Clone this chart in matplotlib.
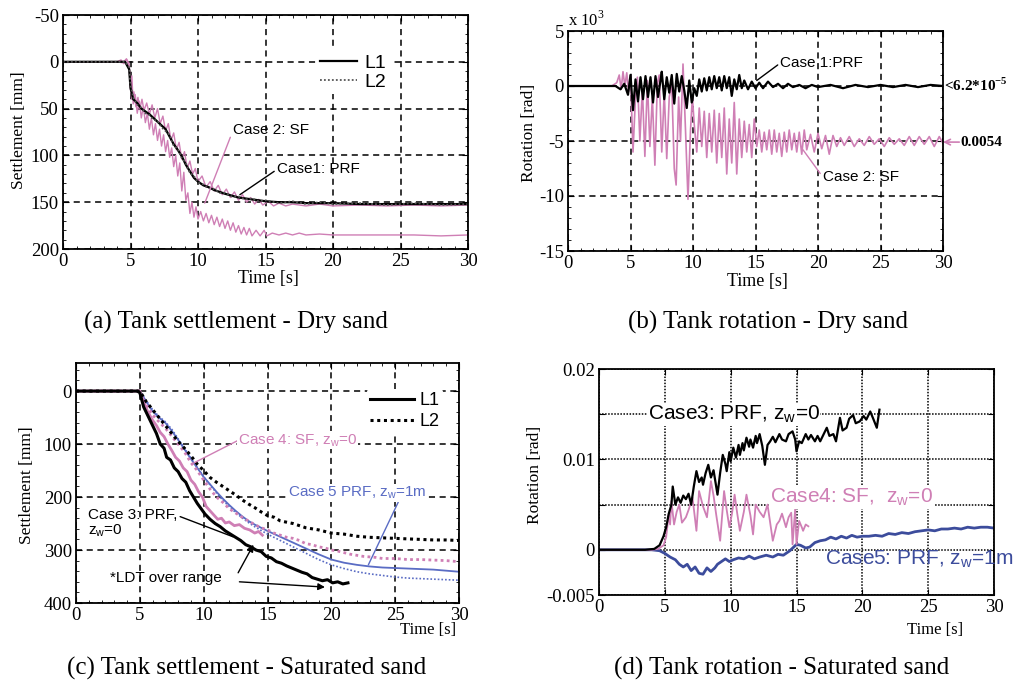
import matplotlib
matplotlib.use("Agg")
import matplotlib.pyplot as plt
from matplotlib.ticker import MultipleLocator

W, H = 1034, 689
PINK = "#cf7fb5"
BLUE_C = "#5a6cc4"
BLUE_D = "#3c4c9c"
SANS = "Liberation Sans"

# (a) settlement on dry sand [mm]
a_prf_t = [0, 4.6, 4.9, 5.0, 5.2, 5.5, 5.8, 6.1, 6.4, 6.7, 7.0, 7.3, 7.6, 7.9, 8.2, 8.5, 8.8, 9.1, 9.4, 9.7,
           10.0, 10.4, 10.8, 11.2, 11.6, 12.0, 12.5, 13.0, 13.5, 14.0, 14.5, 15.0, 16.0, 17.0, 18.0, 19.0,
           20.0, 22.0, 24.0, 26.0, 28.0, 30.0]
a_prf_l1 = [0, 0, 8, 28, 40, 44, 50, 53, 56, 60, 64, 68, 72, 80, 88, 94, 101, 110, 117, 124,
            128, 132, 134, 137, 139, 141, 143, 145, 146, 147, 148, 149, 150, 150, 151, 151,
            151, 152, 152, 152, 152, 152]
a_prf_l2 = [0, 0, 6, 25, 38, 46, 49, 55, 57, 62, 63, 70, 74, 78, 90, 93, 103, 108, 119, 122,
            129, 131, 135, 136, 140, 140, 144, 144, 147, 146, 149, 148, 151, 149, 152, 150,
            152, 151, 153, 151, 153, 152]
a_sf1_t = [0, 4.0, 4.3, 4.5, 4.7, 4.9, 5.0, 5.1, 5.2, 5.35, 5.5, 5.65, 5.8, 5.95, 6.1, 6.25, 6.4, 6.55,
           6.7, 6.85, 7.0, 7.15, 7.3, 7.45, 7.6, 7.75, 7.9, 8.05, 8.2, 8.35, 8.5, 8.65, 8.8, 8.95, 9.1,
           9.25, 9.4, 9.55, 9.7, 9.85, 10.0, 10.2, 10.4, 10.6, 10.8, 11.0, 11.2, 11.4, 11.6, 11.8, 12.0,
           12.2, 12.4, 12.6, 12.8, 13.0, 13.2, 13.4, 13.6, 13.8, 14.0, 14.3, 14.6, 14.9, 15.1, 15.5, 16.0,
           16.5, 17.0, 17.5, 18.0, 19.0, 20.0, 22.0, 24.0, 26.0, 28.0, 30.0]
a_sf1 = [0, 0, -2, 2, -3, 5, 30, 15, 45, 35, 55, 42, 60, 48, 65, 55, 72, 60,
         78, 66, 84, 72, 90, 78, 96, 84, 102, 92, 112, 100, 122, 108, 138, 118, 148,
         140, 162, 150, 166, 155, 168, 160, 170, 162, 172, 164, 174, 166, 176, 168, 178,
         170, 180, 172, 182, 175, 184, 177, 185, 178, 186, 180, 186, 180, 186, 183, 185,
         183, 185, 183, 185, 184, 185, 185, 185, 185, 186, 185]
a_sf2_t = [0, 4.0, 4.4, 4.7, 4.9, 5.0, 5.1, 5.25, 5.4, 5.55, 5.7, 5.85, 6.0, 6.2, 6.4, 6.6, 6.8, 7.0,
           7.2, 7.4, 7.6, 7.8, 8.0, 8.2, 8.4, 8.6, 8.8, 9.0, 9.2, 9.4, 9.6, 9.8, 10.0, 10.3, 10.6, 10.9,
           11.2, 11.5, 11.8, 12.1, 12.4, 12.7, 13.0, 13.3, 13.6, 13.9, 14.2, 14.5, 14.8, 15.2, 15.6,
           16.0, 16.5, 17.0, 18.0, 19.0, 20.0, 22.0, 24.0, 26.0, 28.0, 30.0]
a_sf2 = [0, 0, 1, -3, 2, 25, 40, 32, 48, 38, 50, 40, 52, 44, 56, 46, 60, 50,
         66, 58, 74, 66, 84, 76, 94, 86, 104, 96, 114, 106, 120, 114, 128, 122, 134, 128,
         138, 132, 142, 136, 145, 139, 148, 142, 150, 145, 152, 147, 153, 149, 154,
         151, 154, 152, 154, 152, 154, 153, 154, 153, 154, 153]

# (b) rotation on dry sand [x1e-3 rad]
b_prf_t = [0, 3.8, 4.2, 4.5, 4.8, 5.0, 5.2, 5.4, 5.6, 5.8, 6.0, 6.2, 6.4, 6.6, 6.8, 7.0, 7.2, 7.4, 7.5,
           7.7, 7.9, 8.1, 8.3, 8.5, 8.7, 8.9, 9.1, 9.3, 9.5, 9.7, 9.9, 10.1, 10.3, 10.5, 10.7, 10.9,
           11.1, 11.3, 11.5, 11.7, 11.9, 12.1, 12.3, 12.5, 12.7, 12.9, 13.1, 13.3, 13.5, 13.7, 13.9,
           14.1, 14.4, 14.7, 15.0, 15.3, 15.6, 16.0, 16.4, 16.8, 17.2, 17.6, 18.0, 18.5, 19.0, 19.5,
           20.0, 21.0, 22.0, 23.0, 24.0, 25.0, 26.0, 27.0, 28.0, 29.0, 30.0]
b_prf = [0, 0, -0.3, 0.2, -0.8, 1.0, -2.2, 0.6, -1.4, 0.8, -1.2, 0.9, -1.0, 0.8, -1.5, 0.9, -1.0, 0.5, 1.3,
         -1.2, 0.8, -0.6, 1.0, -1.6, 1.1, -0.5, 0.9, -0.4, -2.0, 0.5, -1.5, -0.2, -0.9, 0.6, -0.5, 0.7,
         -0.4, 0.8, -0.3, 0.9, -0.2, 0.8, -0.4, 0.9, -0.2, 0.8, -0.9, 0.6, -0.3, 1.0, -0.2,
         0.5, -0.3, 0.4, -0.2, 0.3, -0.2, 0.4, -0.1, 0.2, -0.2, 0.2, -0.1, 0.1, -0.2, 0.1,
         -0.1, 0.1, -0.2, 0.1, -0.1, 0.1, -0.1, 0.1, -0.1, 0.1, 0.0]
b_sf_t = [0, 3.5, 3.9, 4.1, 4.25, 4.4, 4.55, 4.7, 4.85, 5.0, 5.2, 5.4, 5.55, 5.75, 5.95, 6.15, 6.35,
          6.55, 6.75, 6.95, 7.15, 7.3, 7.5, 7.7, 7.9, 8.1, 8.3, 8.5, 8.65, 8.85, 9.0, 9.2, 9.4, 9.6,
          9.8, 9.95, 10.1, 10.3, 10.5, 10.7, 10.9, 11.1, 11.3, 11.5, 11.7, 11.9, 12.1, 12.3, 12.5,
          12.7, 12.9, 13.1, 13.3, 13.5, 13.7, 13.9, 14.1, 14.3, 14.5, 14.7, 14.9, 15.1, 15.3, 15.5,
          15.7, 15.9, 16.1, 16.3, 16.5, 16.7, 16.9, 17.1, 17.3, 17.5, 17.7, 17.9, 18.1, 18.3, 18.5,
          18.7, 18.9, 19.1, 19.4, 19.7, 20.0, 20.3, 20.6, 20.9, 21.2, 21.5, 21.8, 22.1, 22.5, 22.9,
          23.3, 23.7, 24.1, 24.5, 24.9, 25.3, 25.7, 26.1, 26.5, 26.9, 27.3, 27.7, 28.1, 28.5, 28.9,
          29.3, 29.7, 30.0]
b_sf = [0, 0, 0.3, 1.0, -0.3, 1.3, 0, 1.2, -0.5, 1.0, -6.0, -1.0, 0.8, -5.0, -0.2, -6.4, 0.5,
        -5.5, -1.0, -7.2, 0.3, 1.0, -6.0, -0.5, -6.6, -1.0, 0.2, -7.5, -9.0, -1.0, -5.0, 2.0, -4.0, -10.3,
        -4.0, -1.0, -3.5, -6.0, -2.0, -5.5, -2.3, -6.5, -2.5, -6.0, -2.2, -7.0, -2.5, -6.5, -2.0,
        -8.0, -3.0, -7.0, -1.5, -8.0, -3.0, -6.5, -3.2, -6.0, -3.5, -6.5, -3.0, -5.5, -4.0, -6.0,
        -4.2, -5.8, -4.0, -6.2, -4.0, -6.0, -4.3, -6.4, -4.2, -6.0, -4.0, -5.8, -4.3, -6.0, -4.2,
        -6.2, -4.0, -5.8, -4.4, -6.0, -4.3, -5.7, -4.5, -6.2, -4.5, -5.5, -4.7, -5.4, -4.6, -5.5,
        -4.8, -5.4, -4.6, -5.3, -4.8, -5.5, -4.7, -5.3, -4.8, -5.4, -4.6, -5.4, -4.6, -5.3, -4.6,
        -5.5, -4.6, -5.2]

# (c) settlement on saturated sand [mm]
c_prf_t1 = [0, 4.8, 5.0, 5.3, 5.6, 6.0, 6.3, 6.6, 6.9, 7.1, 7.4, 7.7, 8.0, 8.3, 8.6, 8.9, 9.2, 9.5, 9.8,
            10.1, 10.5, 10.9, 11.3, 11.7, 12.1, 12.5, 12.9, 13.3, 13.7, 14.1, 14.5, 14.9, 15.3, 15.7,
            16.1, 16.5, 16.9, 17.3, 17.7, 18.1, 18.5, 18.9, 19.3, 19.7, 20.1, 20.5, 20.9, 21.3]
c_prf_l1 = [0, 0, 3, 30, 45, 65, 80, 100, 108, 125, 130, 145, 152, 165, 172, 188, 200, 212, 222,
            232, 242, 250, 256, 264, 270, 276, 282, 290, 294, 300, 303, 312, 315, 322,
            325, 330, 334, 338, 342, 345, 352, 355, 358, 356, 362, 360, 364, 362]
c_prf_t2 = [0, 5.0, 5.5, 6.0, 6.5, 7.0, 7.5, 8.0, 8.5, 9.0, 9.5, 10.0, 10.5, 11.0, 11.5, 12.0, 12.5,
            13.0, 13.5, 14.0, 14.5, 15.0, 15.5, 16.0, 17.0, 18.0, 19.0, 20.0, 21.0, 22.0, 23.0, 24.0,
            25.0, 26.0, 27.0, 28.0, 29.0, 30.0]
c_prf_l2 = [0, 0, 20, 35, 50, 65, 80, 95, 108, 122, 138, 150, 163, 172, 180, 188, 196,
            205, 213, 220, 228, 235, 238, 245, 250, 258, 262, 268, 270, 274, 276, 277,
            278, 279, 280, 281, 281, 282]
c_sf_t1 = [0, 5.0, 5.3, 5.6, 6.0, 6.3, 6.6, 6.9, 7.2, 7.5, 7.8, 8.1, 8.4, 8.7, 9.0, 9.3, 9.6, 9.9,
           10.2, 10.5, 10.8, 11.1, 11.4, 11.7, 12.0, 12.4, 12.8, 13.2, 13.6, 14.0, 14.3, 14.6]
c_sf_l1 = [0, 0, 20, 38, 55, 65, 78, 86, 100, 112, 125, 132, 145, 152, 168, 176, 190, 200,
           218, 226, 234, 242, 240, 249, 247, 254, 252, 259, 262, 268, 265, 272]
c_sf_t2 = [0, 5.0, 5.5, 6.0, 6.5, 7.0, 7.5, 8.0, 8.5, 9.0, 9.5, 10.0, 10.5, 11.0, 11.5, 12.0, 12.5,
           13.0, 13.5, 14.0, 14.5, 15.0, 15.5, 16.0, 16.5, 17.0, 17.5, 18.0, 18.5, 19.0, 19.5, 20.0,
           20.5, 21.0, 21.5, 22.0, 22.5, 23.0, 23.5, 24.0, 25.0, 26.0, 27.0, 28.0, 29.0, 30.0]
c_sf_l2 = [0, 0, 25, 45, 58, 70, 85, 100, 115, 135, 150, 168, 185, 200, 210, 222, 230,
           238, 245, 252, 258, 262, 268, 272, 276, 278, 282, 288, 290, 294, 296, 300,
           302, 305, 308, 310, 312, 313, 314, 316, 316, 318, 318, 319, 320, 322]
c_rf1m_t = [0, 5.0, 5.5, 6.0, 6.5, 7.0, 7.5, 8.0, 8.5, 9.0, 9.5, 10.0, 10.5, 11.0, 11.5, 12.0, 12.5,
            13.0, 13.5, 14.0, 14.5, 15.0, 16.0, 17.0, 18.0, 19.0, 20.0, 21.0, 22.0, 23.0, 24.0, 25.0,
            26.0, 27.0, 28.0, 29.0, 30.0]
c_rf1m_l1 = [0, 0, 20, 38, 50, 60, 75, 92, 110, 128, 145, 162, 176, 190, 203, 215, 226,
             236, 245, 252, 258, 264, 275, 286, 297, 308, 318, 324, 328, 331, 333, 334,
             335, 336, 337, 339, 341]
c_rf1m_l2 = [0, 0, 18, 35, 48, 58, 72, 90, 108, 126, 144, 162, 177, 192, 206, 218, 229,
             239, 248, 256, 263, 270, 282, 294, 306, 318, 328, 335, 341, 345, 348, 351,
             353, 354, 355, 356, 357]

# (d) rotation on saturated sand [x1e-3 rad]
d_prf_t = [0, 3.5, 4.2, 4.6, 4.9, 5.1, 5.3, 5.5, 5.6, 5.8, 6.0, 6.2, 6.4, 6.6, 6.8, 7.0, 7.2, 7.4, 7.6,
           7.8, 7.9, 8.1, 8.3, 8.5, 8.7, 9.0, 9.2, 9.4, 9.6, 9.7, 9.9, 10.0, 10.2, 10.4, 10.6, 10.7,
           10.9, 11.0, 11.2, 11.4, 11.5, 11.7, 11.9, 12.0, 12.2, 12.4, 12.6, 12.8, 13.0, 13.2, 13.4,
           13.7, 13.9, 14.2, 14.4, 14.7, 14.9, 15.0, 15.2, 15.4, 15.7, 15.9, 16.1, 16.4, 16.6, 16.8,
           17.1, 17.3, 17.5, 17.8, 18.0, 18.3, 18.5, 18.8, 19.0, 19.3, 19.5, 19.8, 20.1, 20.3, 20.6,
           20.8, 21.1, 21.3]
d_prf = [0, 0, 0.1, 0.5, 1.5, 2.5, 4.0, 5.0, 7.0, 5.0, 5.8, 5.2, 6.0, 5.6, 6.2, 5.0, 7.0, 8.7, 7.5,
         8.0, 7.2, 8.5, 9.4, 8.0, 8.8, 6.1, 8.5, 10.5, 9.5, 8.7, 10.8, 9.8, 11.3, 10.2, 11.6, 10.5,
         11.8, 11.0, 12.4, 11.4, 12.2, 11.3, 12.6, 11.8, 12.8, 11.5, 9.4, 11.6, 12.0, 12.5, 11.9,
         12.8, 12.2, 12.0, 12.8, 13.1, 12.2, 10.9, 12.0, 11.8, 12.8, 12.2, 12.7, 12.0, 12.6, 12.0,
         12.9, 13.5, 12.6, 12.8, 12.0, 14.6, 13.2, 13.5, 14.5, 14.9, 14.0, 14.2, 14.8, 14.4, 15.3,
         14.6, 13.5, 15.5]
d_sf_t = [0, 4.0, 4.5, 4.9, 5.1, 5.3, 5.4, 5.5, 5.7, 5.9, 6.1, 6.3, 6.6, 6.8, 7.1, 7.4, 7.6, 7.9, 8.2,
          8.5, 8.7, 8.9, 9.2, 9.5, 9.7, 9.9, 10.1, 10.3, 10.5, 10.7, 11.0, 11.2, 11.5, 11.7, 11.9,
          12.2, 12.5, 12.8, 13.0, 13.2, 13.5, 13.7, 13.9, 14.2, 14.4, 14.6, 14.7, 14.9, 15.0, 15.2,
          15.4, 15.5, 15.7, 15.9]
d_sf = [0, 0, 0.1, 0.5, 1.4, 4.0, 2.8, 5.4, 2.8, 4.2, 5.0, 3.0, 3.6, 4.4, 5.8, 2.1, 6.5, 4.8, 3.6,
        7.6, 6.0, 3.9, 1.0, 6.5, 4.4, 2.5, 4.0, 6.1, 4.0, 2.1, 4.2, 6.1, 3.8, 1.7, 5.0,
        4.2, 3.6, 5.0, 3.0, 1.0, 2.8, 3.2, 4.0, 2.5, 3.6, 4.1, 0.6, 4.5, 0.6, 3.2,
        2.5, 2.1, 2.8, 2.6]
d_rf1m_t = [0, 4.0, 4.6, 5.0, 5.4, 5.8, 6.1, 6.4, 6.7, 7.0, 7.3, 7.6, 7.9, 8.2, 8.5, 8.8, 9.0, 9.3,
            9.6, 9.9, 10.2, 10.6, 11.0, 11.4, 11.8, 12.2, 12.7, 13.2, 13.6, 14.0, 14.5, 15.0, 15.3,
            15.7, 16.0, 16.4, 16.8, 17.2, 17.6, 18.0, 18.4, 18.8, 19.2, 19.6, 20.0, 20.5, 21.0, 21.5,
            22.0, 22.5, 23.0, 23.5, 24.0, 24.5, 25.0, 25.5, 26.0, 26.5, 27.0, 27.5, 28.0, 28.5, 29.0,
            29.5, 30.0]
d_rf1m = [0, 0, -0.1, -0.4, -0.8, -1.1, -1.6, -1.9, -1.6, -2.3, -1.9, -2.6, -2.7, -2.0, -2.4, -2.0,
          -1.6, -1.3, -1.0, -1.3, -1.1, -0.9, -1.0, -0.7, -1.0, -0.8, -0.6, -0.8, -0.5, -0.6, -0.1,
          0.6, 0.5, 0.2, 0.3, 0.8, 1.0, 1.1, 1.4, 1.2, 1.5, 1.3, 1.6, 1.4, 1.5, 1.5, 1.6, 1.5,
          1.8, 1.7, 1.9, 1.8, 2.0, 2.1, 2.2, 2.1, 2.3, 2.3, 2.4, 2.3, 2.5, 2.4, 2.5, 2.5, 2.4]

captions = ["(a) Tank settlement - Dry sand", "(b) Tank rotation - Dry sand",
            "(c) Tank settlement - Saturated sand", "(d) Tank rotation - Saturated sand"]

plt.rcParams["font.family"] = "Liberation Serif"
plt.rcParams["axes.unicode_minus"] = False
plt.rcParams["mathtext.fontset"] = "custom"
plt.rcParams["mathtext.rm"] = "Liberation Serif"
plt.rcParams["mathtext.bf"] = "Liberation Serif:bold"
plt.rcParams["mathtext.sf"] = "Liberation Sans"

DASHED = (0, (4, 3))
DOTTED = (0, (1, 1.2))

fig = plt.figure(figsize=(W / 100, H / 100), dpi=100)


def axes_at(left, top, right, bottom):
    # pixel edges -> figure fractions
    return fig.add_axes([left / W, 1 - bottom / H, (right - left) / W, (bottom - top) / H])


def ptext(x, y, s, **kw):
    kw.setdefault("ha", "center")
    kw.setdefault("va", "center")
    return fig.text(x / W, 1 - y / H, s, **kw)


def style(ax, grid_ls, xminor=None, yminor=None):
    ax.set_xlim(0, 30)
    ax.xaxis.set_major_locator(MultipleLocator(5))
    if xminor:
        ax.xaxis.set_minor_locator(MultipleLocator(xminor))
    if yminor:
        ax.yaxis.set_minor_locator(MultipleLocator(yminor))
    ax.tick_params(which="both", direction="in", top=True, right=True)
    ax.tick_params(which="major", length=4, labelsize=13.5, pad=3)
    ax.tick_params(which="minor", length=2)
    ax.grid(True, which="major", color="black", ls=grid_ls, lw=1.1)
    for sp in ax.spines.values():
        sp.set_linewidth(1.3)


def note(ax, text, xy, xytext, color="black", line=None, relpos=(0.5, 0.5), size=11, **kw):
    ax.annotate(text, xy=xy, xytext=xytext, color=color, family=SANS, fontsize=size,
                ha="left", va="center",
                arrowprops=dict(arrowstyle="-", color=line or color, lw=1.0,
                                shrinkA=0, shrinkB=0, relpos=relpos), **kw)


# ---- (a) ----
ax = axes_at(63, 15, 468, 249)
style(ax, DASHED, xminor=1, yminor=10)
ax.plot(a_sf1_t, a_sf1, color=PINK, lw=1.0)
ax.plot(a_sf2_t, a_sf2, color=PINK, lw=1.0)
h1, = ax.plot(a_prf_t, a_prf_l1, color="black", lw=1.6)
h2, = ax.plot(a_prf_t, a_prf_l2, color="#555555", lw=1.3, ls=DOTTED)
ax.set_ylim(200, -50)
ax.set_yticks([-50, 0, 50, 100, 150, 200])
ax.legend([h1, h2], ["L1", "L2"], loc="upper left", bbox_to_anchor=(0.60, 0.89),
          prop={"family": SANS, "size": 14}, handlelength=1.9, handletextpad=0.4,
          labelspacing=0.05, borderpad=0.2, facecolor="white", edgecolor="none", framealpha=1)
note(ax, "Case 2: SF", (10.5, 151), (12.6, 73), line=PINK, relpos=(0, 0.5))
note(ax, "Case1: PRF", (13.1, 142), (15.85, 115), relpos=(0, 0.5))
ptext(19, 130, "Settlement [mm]", rotation=90, fontsize=12.5)
ptext(268, 279, "Time [s]", fontsize=13)

# ---- (b) ----
ax = axes_at(568, 31, 943, 251)
style(ax, DASHED, xminor=1, yminor=1)
ax.plot(b_sf_t, b_sf, color=PINK, lw=1.2)
ax.plot(b_prf_t, b_prf, color="black", lw=1.6)
ax.set_ylim(-15, 5)
ax.set_yticks([-15, -10, -5, 0, 5])
note(ax, "Case 1:PRF", (15.1, 0.5), (17.0, 2.1), relpos=(0, 0.5))
note(ax, "Case 2: SF", (18.8, -5.8), (20.4, -8.3), line=PINK, relpos=(0, 0.5))
ax.annotate("", xy=(30, -5.1), xytext=(31.3, -5.1), annotation_clip=False,
            arrowprops=dict(arrowstyle="->", color=PINK, lw=1.2, shrinkA=0, shrinkB=0))
ptext(944, 85, r"<6.2*10$^{\mathbf{-5}}$", ha="left", fontsize=11, fontweight="bold")
ptext(960, 142, "0.0054", ha="left", fontsize=11, fontweight="bold")
ptext(568, 20, r"x 10$^{3}$", ha="left", fontsize=12)
ptext(529, 133, "Rotation [rad]", rotation=90, fontsize=12.5)
ptext(757, 281, "Time [s]", fontsize=13)

# ---- (c) ----
ax = axes_at(76, 363, 459, 603)
style(ax, DASHED, xminor=1, yminor=20)
ax.plot(c_rf1m_t, c_rf1m_l2, color=BLUE_C, lw=1.2, ls=DOTTED)
ax.plot(c_rf1m_t, c_rf1m_l1, color=BLUE_C, lw=1.3)
ax.plot(c_sf_t2, c_sf_l2, color=PINK, lw=2.0, ls=DOTTED)
ax.plot(c_sf_t1, c_sf_l1, color=PINK, lw=2.0)
g1, = ax.plot(c_prf_t1, c_prf_l1, color="black", lw=2.2)
g2, = ax.plot(c_prf_t2, c_prf_l2, color="black", lw=2.2, ls=DOTTED)
ax.set_ylim(400, -53)
ax.set_yticks([0, 100, 200, 300, 400])
ax.legend([g1, g2], ["L1", "L2"], loc="upper left", bbox_to_anchor=(0.735, 0.93),
          prop={"family": SANS, "size": 13}, handlelength=2.45, handletextpad=0.3,
          labelspacing=0.2, borderpad=0.2, facecolor="white", edgecolor="none", framealpha=1)
note(ax, r"Case 4: SF, z$_\mathsf{w}$=0", (9.2, 136), (12.7, 93), color=PINK, relpos=(0, 0.5),
     bbox=dict(fc="white", ec="none", pad=0.5))
note(ax, r"Case 5 PRF, z$_\mathsf{w}$=1m", (22.9, 328), (16.6, 192), color=BLUE_C,
     relpos=(0.8, 0), bbox=dict(fc="white", ec="none", pad=0.5))
note(ax, "Case 3: PRF,\nz$_\mathsf{w}$=0", (12.3, 275), (0.94, 250), relpos=(1, 0.75),
     linespacing=1.1)
ax.text(2.66, 353, "*LDT over range", family=SANS, fontsize=11, va="center")
for tip, tail in [((13.9, 290), (12.7, 343)), ((19.5, 370), (12.8, 360))]:
    ax.annotate("", xy=tip, xytext=tail,
                arrowprops=dict(arrowstyle="-|>", color="black", lw=1.0, mutation_scale=10,
                                shrinkA=0, shrinkB=0))
ptext(27, 485, "Settlement [mm]", rotation=90, fontsize=12.5)
ptext(428, 630, "Time [s]", fontsize=12)

# ---- (d) ----
ax = axes_at(599, 369, 994, 595)
style(ax, (0, (1, 1)))
ax.plot(d_rf1m_t, [v * 1e-3 for v in d_rf1m], color=BLUE_D, lw=2.0)
ax.plot(d_sf_t, [v * 1e-3 for v in d_sf], color=PINK, lw=1.3)
ax.plot(d_prf_t, [v * 1e-3 for v in d_prf], color="black", lw=1.6)
ax.set_ylim(-0.005, 0.02)
ax.set_yticks([-0.005, 0, 0.005, 0.01, 0.015, 0.02], ["-0.005", "0", "", "0.01", "", "0.02"])
wbox = dict(fc="white", ec="none", pad=0.5)
ax.text(3.7, 0.015, r"Case3: PRF, z$_\mathsf{w}$=0", color="black", family=SANS, fontsize=15,
        va="center", bbox=wbox)
ax.text(13.0, 0.0058, r"Case4: SF,  z$_\mathsf{w}$=0", color=PINK, family=SANS, fontsize=15,
        va="center", bbox=wbox)
ax.text(17.2, -0.001, r"Case5: PRF, z$_\mathsf{w}$=1m", color=BLUE_D, family=SANS, fontsize=15,
        va="center", clip_on=False)
ptext(535, 475, "Rotation [rad]", rotation=90, fontsize=12.5)
ptext(935, 630, "Time [s]", fontsize=12)

# captions under each panel
for (cx, cy), cap in zip([(236, 322), (768, 322), (247, 668), (782, 668)], captions):
    ptext(cx, cy, cap, fontsize=18)

fig.savefig("out.png", dpi=100)
